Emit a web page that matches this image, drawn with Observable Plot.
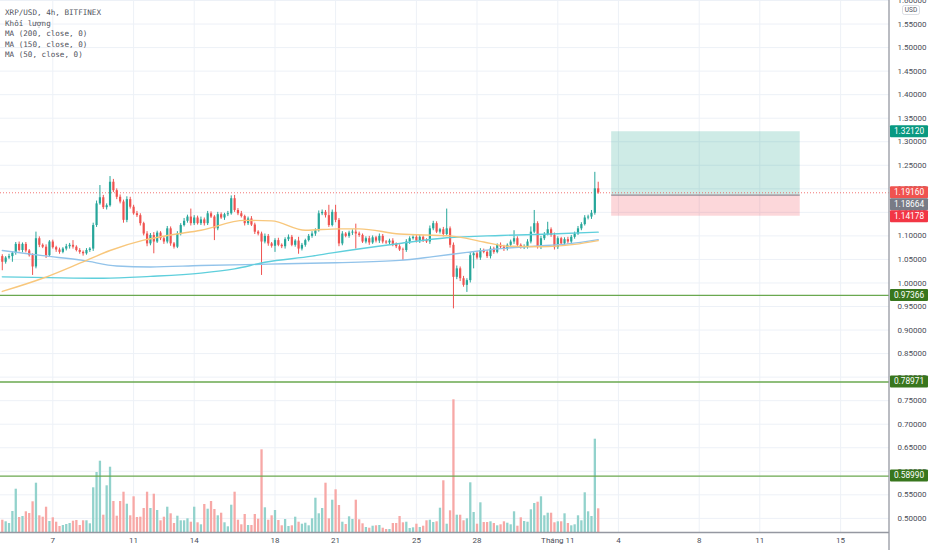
<!DOCTYPE html>
<html><head><meta charset="utf-8">
<script src="https://cdn.jsdelivr.net/npm/d3@7"></script>
<script src="https://cdn.jsdelivr.net/npm/@observablehq/plot@0.6"></script>
<style>
body{margin:0;background:#fff;}
#wrap{position:relative;width:932px;height:550px;overflow:hidden;background:#fff;}
#wrap svg{position:absolute;left:0;top:0;}
.legend{position:absolute;left:5px;top:8px;font:7.6px "DejaVu Sans Mono",monospace;color:#4f525c;line-height:10.6px;white-space:pre;z-index:5;}
</style></head><body>
<div id="wrap"></div>
<script>
// ---------- data ----------
const symbolTitle = "XRP/USD, 4h, BITFINEX";
const legendLines = ["Khối lượng", "MA (200, close, 0)", "MA (150, close, 0)", "MA (50, close, 0)"];

const firstOpen = 1.056;
const closes = [
1.044,1.053,1.056,1.063,1.082,1.069,1.082,1.068,1.058,1.034,
1.094,1.080,1.076,1.058,1.087,1.075,1.070,1.065,1.072,1.077,
1.080,1.076,1.069,1.065,1.062,1.069,1.072,1.122,1.168,1.181,
1.160,1.164,1.214,1.196,1.182,1.172,1.133,1.177,1.161,1.147,
1.143,1.126,1.104,1.083,1.101,1.087,1.106,1.094,1.087,1.115,
1.083,1.076,1.104,1.122,1.131,1.140,1.126,1.138,1.126,1.134,
1.126,1.147,1.140,1.115,1.145,1.138,1.145,1.147,1.179,1.154,
1.147,1.141,1.126,1.136,1.123,1.108,1.104,1.087,1.099,1.083,
1.078,1.090,1.080,1.077,1.092,1.097,1.080,1.089,1.072,1.080,
1.090,1.099,1.104,1.111,1.147,1.150,1.143,1.122,1.150,1.133,
1.083,1.104,1.099,1.106,1.108,1.104,1.101,1.087,1.094,1.085,
1.096,1.089,1.099,1.087,1.085,1.089,1.082,1.077,1.070,1.069,
1.087,1.094,1.097,1.089,1.097,1.090,1.087,1.115,1.126,1.108,
1.113,1.103,1.115,1.080,1.012,1.030,1.009,0.995,1.005,1.058,
1.062,1.053,1.069,1.065,1.056,1.072,1.065,1.080,1.076,1.072,
1.080,1.087,1.094,1.080,1.075,1.077,1.087,1.108,1.126,1.076,
1.094,1.103,1.113,1.101,1.075,1.094,1.083,1.092,1.087,1.097,
1.104,1.115,1.124,1.138,1.140,1.148,1.200,1.1916];
// wick lengths beyond the body, in thousandths of a dollar
const wickUp = [
4,3,5,3,4,5,3,4,3,4, 14,4,3,5,3,4,3,4,3,5, 4,10,3,4,3,4,3,5,6,26, 5,4,12,6,4,5,4,6,5,4,
5,4,3,5,4,6,4,3,4,5, 4,3,5,4,6,4,17,5,4,6, 4,5,4,3,5,4,3,5,6,7, 4,5,3,4,5,4,3,4,5,4,
3,4,5,3,4,5,4,3,8,4, 3,4,5,4,6,5,4,22,5,15, 4,5,3,4,5,17,4,3,4,5, 4,3,5,4,3,4,5,3,4,4,
5,4,3,5,4,3,4,6,5,4, 3,5,42,4,5,6,4,5,4,6, 4,5,4,3,4,5,4,3,5,4, 3,4,17,4,3,4,5,11,28,4,
5,4,16,4,5,4,3,4,5,4, 4,5,4,5,4,6,35,14];
const wickDn = [
18,4,3,12,4,3,5,4,3,18, 4,5,3,6,4,3,5,4,3,4, 5,4,3,4,5,3,4,5,4,3, 4,5,3,4,5,4,6,5,4,3,
4,5,4,6,4,25,3,4,5,4, 5,4,3,4,3,4,5,4,3,4, 5,4,3,25,4,3,5,4,3,4, 4,3,5,4,3,5,4,71,4,5,
4,13,3,4,5,4,3,4,11,4, 4,3,4,5,3,4,5,4,3,5, 6,4,3,4,5,32,4,3,4,5, 3,4,5,4,3,4,5,4,3,21,
4,5,3,4,5,4,3,5,4,3, 4,5,4,6,67,5,6,4,15,5, 28,4,5,3,4,5,4,3,4,5, 4,3,5,4,3,4,5,4,3,4,
5,4,3,4,5,4,3,4,5,4, 4,3,4,3,4,5,4,3];
// volume (relative units)
const volumes = [
12.3,10.7,9,21,43.3,15,16,20.7,19,30.7, 49.3,16.7,15.3,25.3,11,14.7,10.3,6,7,8,
9,11.3,12,7,11.7,11.7,8.7,44.7,60,71.3, 17.3,46.7,65.3,31,16.3,31,40.3,28.3,16.7,35.7,
15,15.3,24,40.3,24,38.3,22,11.7,15.3,25.3, 18.7,9,16.3,11.7,11.7,13.7,10.3,25.3,9.7,7.7,
28,23.3,31,23,16.7,19.3,9.7,5.7,27.3,40.3, 12.3,7.7,18,7,7,18,13.3,82.7,24.7,12.3,
16.7,22,12,6.7,13,6,6.7,15.3,10.3,
8.3,9.3,6.7,13.7,34.3,18.7,24,49.3,13.7,32.3, 42.7,27,10.3,8,15.7,13,32.3,12.7,8.7,5,
4.3,6.3,6.7,7,4.3,3,3,9,9,16, 9.7,10.3,4,4.7,8.3,5,6.3,11.7,12.3,10,
10.7,24.3,51.7,8.3,21.7,132.7,17.3,17.3,11.7,13.7, 49.7,20,8.3,29.7,10,10,10.7,9,6.7,7.7,
10.7,9.3,7.7,20.7,6.3,14.7,11,10.3,22.7,29, 30.3,35.7,16.7,19.3,19.3,9.7,10.7,10.7,18.7,9,
6.7,7.7,16.7,11.7,39.7,20.7,16,93.3,23.7];

// moving averages read at candle indices
const ma50Idx = [0,12,24,32,42,50,59,72,80,90,100,106,118,133,143,150,160,170,177];
const ma50Val = [0.982,1.010,1.045,1.069,1.091,1.102,1.112,1.133,1.132,1.112,1.115,1.115,1.104,1.100,1.087,1.078,1.077,1.082,1.090];
const ma150Idx = [0,30,44,59,69,78,92,98,118,132,148,163,177];
const ma150Val = [1.013,1.010,1.014,1.021,1.030,1.044,1.057,1.064,1.084,1.096,1.101,1.104,1.108];
const ma200Idx = [0,12,24,34,44,59,79,99,118,128,138,148,158,168,177];
const ma200Val = [1.069,1.058,1.048,1.036,1.034,1.037,1.040,1.043,1.048,1.056,1.065,1.073,1.078,1.083,1.092];

const levelLines = [0.97366, 0.78971, 0.5899];
const lastPrice = 1.1916;
const posEntry = 1.18664, posTarget = 1.3212, posStop = 1.14178;
const posStart = new Date(Date.UTC(2021,10,3,16)), posEnd = new Date(Date.UTC(2021,10,13,0));

const xTickDates = [[9,7],[9,11],[9,14],[9,18],[9,21],[9,25],[9,28],[10,1],[10,4],[10,8],[10,11],[10,15]].map(([m,d])=>new Date(Date.UTC(2021,m,d)));
const xTickLabels = ["7","11","14","18","21","25","28","Tháng 11","4","8","11","15"];
const yTicks = [0.5,0.55,0.6,0.65,0.7,0.75,0.8,0.85,0.9,0.95,1.0,1.05,1.1,1.15,1.2,1.25,1.3,1.35,1.4,1.45,1.5,1.55,1.6];

// ---------- build ----------
const GREEN = "#26a69a", RED = "#ef5350";
const t0 = Date.UTC(2021,9,4,12), H4 = 4*3600e3;
const dateAt = i => new Date(t0 + i*H4);
const candles = closes.map((c,i)=>{
  const o = i ? closes[i-1] : firstOpen;
  return {date: dateAt(i), o, c,
    h: Math.max(o,c) + wickUp[i]/1000,
    l: Math.min(o,c) - wickDn[i]/1000,
    v: volumes[i], up: c >= o};
});
const maPts = (idx, val) => idx.map((k,j)=>({date: dateAt(k), v: val[j]}));
const ma50 = maPts(ma50Idx, ma50Val), ma150 = maPts(ma150Idx, ma150Val), ma200 = maPts(ma200Idx, ma200Val);
const position = [{start: posStart, end: posEnd, entry: posEntry, target: posTarget, stop: posStop}];

const xDomain = [new Date(Date.UTC(2021,9,4,9,52)), new Date(Date.UTC(2021,10,17,10,5))];
const yDomain = [0.47, 1.6];
const common = {width:932, height:550, marginLeft:0, marginRight:43, marginTop:0, marginBottom:18};
const GRID = "#edf1f7";

const gridPlot = Plot.plot({...common,
  style:{background:"#fff"},
  x:{type:"utc", domain:xDomain, axis:null},
  y:{domain:yDomain, axis:null},
  marks:[
    Plot.ruleY(yTicks, {stroke:GRID, strokeWidth:1}),
    Plot.ruleX(xTickDates, {stroke:GRID, strokeWidth:1})
  ]});

const volPlot = Plot.plot({...common,
  style:{background:"transparent"},
  x:{type:"utc", domain:xDomain, axis:null},
  y:{domain:[0, 532], axis:null},
  color:{type:"identity"},
  marks:[
    Plot.ruleX(candles, {x:"date", y1:0, y2:"v", stroke:d=>d.up?"#92d2cc":"#f7a8a6", strokeWidth:2.3})
  ]});

const labelFor = d => { const k = xTickDates.findIndex(t=>+t===+d); return k<0 ? "" : xTickLabels[k]; };

const main = Plot.plot({...common,
  style:{background:"transparent", fontFamily:"Roboto, sans-serif", fontSize:"8px", color:"#4a4d57", overflow:"visible"},
  x:{type:"utc", domain:xDomain, ticks:xTickDates, tickFormat:labelFor, tickSize:0, tickPadding:5, label:null},
  y:{domain:yDomain, axis:"right", ticks:yTicks, tickFormat:d3.format(".5f"), tickSize:0, tickPadding:8, label:null},
  color:{type:"identity"},
  marks:[
    Plot.rect(position, {x1:"start", x2:"end", y1:"entry", y2:"target", fill:"#089981", fillOpacity:0.2}),
    Plot.rect(position, {x1:"start", x2:"end", y1:"stop", y2:"entry", fill:"#f23645", fillOpacity:0.2}),
    Plot.ruleY(position, {x1:"start", x2:"end", y:"entry", stroke:"#787b86", strokeWidth:1}),
    Plot.ruleY(levelLines, {stroke:"#6aa84f", strokeWidth:1.3}),
    Plot.ruleY([lastPrice], {stroke:"#ef5350", strokeDasharray:"1,2", strokeWidth:1, strokeOpacity:0.8}),
    Plot.ruleX(candles, {x:"date", y1:"l", y2:"h", stroke:d=>d.up?GREEN:RED, strokeWidth:1}),
    Plot.ruleX(candles, {x:"date", y1:"o", y2:"c", stroke:d=>d.up?GREEN:RED, strokeWidth:2.2}),
    Plot.line(ma200, {x:"date", y:"v", stroke:"#92c3ea", strokeWidth:1.4, curve:"monotone-x"}),
    Plot.line(ma150, {x:"date", y:"v", stroke:"#5fcfdc", strokeWidth:1.4, curve:"monotone-x"}),
    Plot.line(ma50, {x:"date", y:"v", stroke:"#f8c77c", strokeWidth:1.4, curve:"monotone-x"}),
    Plot.ruleY([yDomain[0]], {stroke:"#9598a1", strokeWidth:1.3})
  ]});

// price labels on the right axis, placed through the plot's own scales
const ys = main.scale("y"), xs = main.scale("x");
const svg = d3.select(main);
const xr = xs.apply(xDomain[1]);
svg.append("line").attr("x1", xr).attr("x2", xr).attr("y1", 0).attr("y2", 550)
   .attr("stroke", "#9598a1").attr("stroke-width", 1.3);
const priceLabels = [
  {v: posTarget, bg:"#089981"},
  {v: lastPrice, bg:"#f0534f"},
  {v: posEntry, bg:"#787b86"},
  {v: posStop, bg:"#f23645"},
  ...levelLines.map(v=>({v, bg:"#38761d"}))
].map(d=>({...d, y: ys.apply(d.v)})).sort((a,b)=>a.y-b.y);
const LH = 12;
for (let i=1;i<priceLabels.length;i++) if (priceLabels[i].y < priceLabels[i-1].y + LH) priceLabels[i].y = priceLabels[i-1].y + LH;
const g = svg.append("g");
for (const d of priceLabels) {
  g.append("rect").attr("x", xr+1).attr("y", d.y-LH/2).attr("width", 38).attr("height", LH).attr("fill", d.bg).attr("rx", 1);
  g.append("text").attr("x", xr+20).attr("y", d.y).attr("dy","0.35em").attr("text-anchor","middle")
   .attr("fill","#fff").attr("font-size", 8.3).attr("font-family","Roboto, sans-serif").text(d3.format(".5f")(d.v));
}
// currency badge
g.append("rect").attr("x", 902.5).attr("y", 5.5).attr("width", 17).attr("height", 9).attr("rx", 2)
 .attr("fill","#fff").attr("stroke","#d1d4dc").attr("stroke-width",0.8);
g.append("text").attr("x", 911).attr("y", 10).attr("dy","0.35em").attr("text-anchor","middle")
 .attr("fill","#50535e").attr("font-size", 6.5).attr("font-family","Roboto, sans-serif").text("USD");

const wrap = document.getElementById("wrap");
wrap.append(gridPlot, volPlot, main);
const leg = document.createElement("div");
leg.className = "legend";
leg.textContent = [symbolTitle, ...legendLines].join("\n");
wrap.append(leg);
</script>
</body></html>
